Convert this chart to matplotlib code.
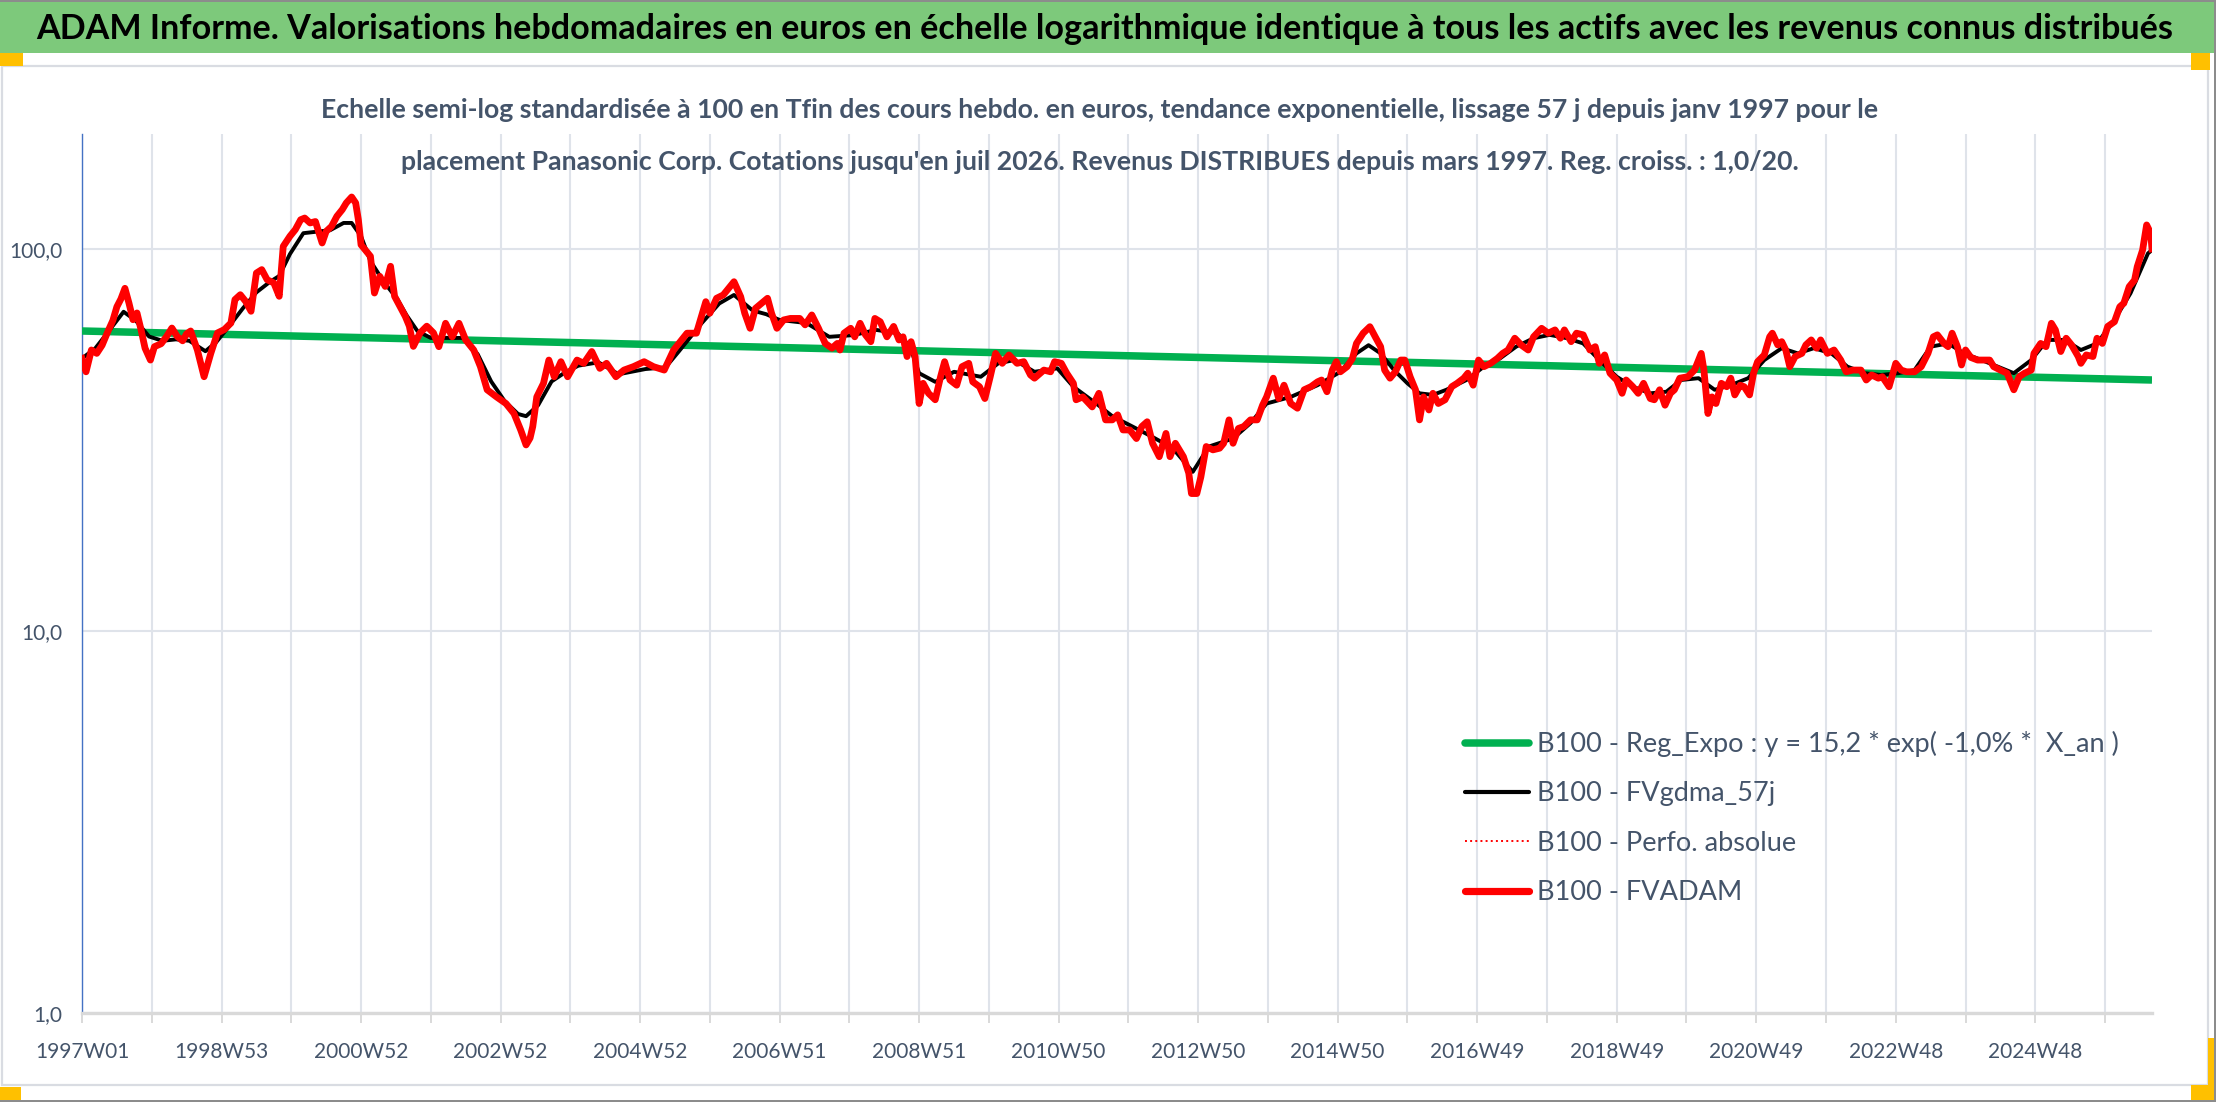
import matplotlib
matplotlib.use("Agg")
import matplotlib.pyplot as plt
from matplotlib.patches import Rectangle
from matplotlib.lines import Line2D


# ── Constants ────────────────────────────────────────────────────────────────
W, H, DPI = 2216, 1102, 100
SLATE = "#44546a"
GRID = "#dfe3ea"

TITLE = ("ADAM Informe. Valorisations hebdomadaires en euros en échelle logarithmique "
         "identique à tous les actifs avec les revenus connus distribués")
SUBTITLE_1 = ("Echelle semi-log standardisée à 100 en Tfin des cours hebdo. en euros, "
              "tendance exponentielle, lissage 57 j depuis janv 1997 pour le")
SUBTITLE_2 = ("placement Panasonic Corp. Cotations jusqu'en juil 2026. Revenus DISTRIBUES "
              "depuis mars 1997. Reg. croiss. : 1,0/20.")

LEGEND_LABELS = [
    "B100 - Reg_Expo : y = 15,2 * exp( -1,0% *  X_an )",
    "B100 - FVgdma_57j",
    "B100 - Perfo. absolue",
    "B100 - FVADAM",
]

# ── Data (x = weeks since 1997W01) ───────────────────────────────────────────
tick_labels = ["1997W01", "1998W53", "2000W52", "2002W52", "2004W52", "2006W51",
               "2008W51", "2010W50", "2012W50", "2014W50", "2016W49", "2018W49",
               "2020W49", "2022W48", "2024W48"]

fvadam_weeks = [
    0, 3, 7, 11, 15, 19, 23, 26, 29, 32, 35, 38, 41, 44, 47, 51, 54, 59, 63, 67,
    71, 75, 78, 81, 86, 88, 91, 96, 101, 106, 111, 114, 118, 122, 126, 130, 134, 138, 143, 147,
    150, 155, 159, 163, 166, 170, 174, 179, 182, 186, 190, 194, 197, 201, 204, 206, 208, 211, 215, 218,
    222, 226, 230, 233, 237, 241, 244, 247, 252, 257, 262, 266, 271, 276, 281, 286, 292, 297, 302, 309,
    316, 322, 327, 331, 334, 336, 339, 344, 348, 352, 357, 362, 369, 374, 380, 386, 391, 398, 404, 411,
    419, 426, 434, 441, 451, 458, 465, 468, 473, 478, 486, 491, 494, 498, 502, 511, 514, 518, 523, 528,
    535, 539, 544, 549, 554, 559, 563, 565, 568, 573, 576, 580, 584, 588, 591, 595, 600, 605, 609, 612,
    615, 618, 621, 624, 627, 631, 636, 640, 643, 647, 652, 656, 661, 664, 669, 673, 677, 681, 686, 691,
    697, 702, 707, 710, 717, 722, 725, 730, 734, 739, 741, 746, 753, 758, 763, 768, 772, 776, 781, 786,
    790, 794, 798, 803, 808, 811, 815, 821, 825, 827, 831, 834, 838, 843, 848, 851, 855, 858, 862, 866,
    871, 876, 880, 883, 888, 892, 896, 901, 906, 911, 916, 921, 924, 928, 932, 935, 938, 943, 947, 950,
    955, 960, 964, 968, 971, 975, 979, 983, 986, 990, 994, 997, 1000, 1004, 1007, 1011, 1016, 1021, 1025, 1030,
    1033, 1037, 1041, 1045, 1050, 1055, 1059, 1063, 1068, 1073, 1078, 1082, 1088, 1093, 1098, 1102, 1105, 1110, 1114, 1119,
    1124, 1128, 1131, 1135, 1139, 1144, 1148, 1151, 1156, 1160, 1164, 1169, 1172, 1176, 1180, 1184, 1187, 1191, 1197, 1202,
    1207, 1209, 1212, 1215, 1218, 1222, 1226, 1229, 1232, 1236, 1239, 1243, 1246, 1249, 1254, 1258, 1260, 1264, 1267, 1270,
    1273, 1277, 1282, 1285, 1289, 1293, 1296, 1301, 1306, 1311, 1315, 1320, 1326, 1330, 1334, 1339, 1342, 1347, 1352, 1356,
    1360, 1366, 1371, 1376, 1380, 1383, 1388, 1391, 1394, 1398, 1401, 1404, 1408, 1413, 1418, 1422, 1425, 1430, 1435, 1440,
    1444, 1448, 1453, 1455, 1460, 1464, 1468, 1471, 1475, 1479, 1483, 1488, 1490, 1494, 1499, 1502, 1506, 1510, 1515, 1519,
    1522, 1526, 1530, 1532, 1536, 1539, 1542, 1543,
]
fvadam_values = [
    51.7, 47.7, 54.4, 53.3, 56.0, 60.5, 65.0, 70.6, 74.0, 78.9, 72.2, 65.3, 68.0, 61.5, 55.0, 51.2, 55.5, 56.5, 59.0, 62.1,
    59.0, 57.5, 60.0, 61.0, 54.4, 51.0, 46.3, 53.3, 60.3, 61.5, 64.0, 73.7, 75.9, 72.9, 68.7, 86.5, 88.3, 83.1, 81.5, 75.2,
    101.6, 108.0, 112.4, 119.3, 120.5, 117.0, 118.0, 103.7, 111.2, 114.6, 121.8, 126.8, 132.0, 136.8, 132.0, 119.3, 102.6, 99.6, 95.7, 76.7,
    84.8, 79.8, 90.1, 75.2, 70.8, 66.6, 62.8, 55.6, 60.3, 62.8, 60.3, 55.5, 63.9, 58.9, 63.9, 57.8, 54.4, 49.2, 42.8, 41.0,
    39.4, 37.1, 33.6, 30.7, 32.0, 34.3, 41.0, 44.5, 51.2, 46.3, 50.7, 46.3, 51.2, 50.2, 53.9, 48.7, 50.2, 46.3, 48.2, 49.2,
    50.7, 49.2, 48.2, 54.4, 60.2, 60.2, 72.8, 67.9, 74.3, 75.8, 82.1, 75.0, 67.9, 62.0, 69.9, 74.3, 67.9, 62.0, 65.2, 65.8,
    65.8, 63.3, 67.2, 62.0, 56.6, 55.0, 56.6, 54.4, 60.2, 62.0, 58.9, 63.9, 59.6, 57.2, 65.8, 64.5, 58.9, 62.7, 57.8, 58.9,
    52.3, 57.2, 52.3, 39.4, 44.5, 41.9, 40.3, 46.3, 50.7, 45.4, 44.0, 49.2, 50.2, 44.9, 43.6, 40.6, 46.3, 53.3, 50.2, 52.8,
    50.2, 50.7, 46.8, 45.9, 48.2, 47.7, 50.7, 50.2, 47.3, 44.5, 40.3, 41.0, 38.6, 41.9, 35.7, 35.7, 36.8, 33.6, 33.6, 31.9,
    34.3, 35.3, 31.0, 28.6, 32.9, 28.6, 31.0, 28.6, 25.9, 22.9, 22.9, 25.3, 30.4, 29.8, 30.1, 31.0, 35.7, 31.0, 33.9, 34.3,
    35.7, 35.7, 39.0, 41.0, 45.9, 40.6, 44.0, 39.4, 38.3, 42.8, 43.6, 44.9, 45.4, 42.3, 48.2, 50.7, 47.7, 49.2, 51.7, 56.6,
    60.2, 62.6, 58.9, 55.5, 48.2, 45.9, 47.7, 51.2, 51.2, 46.3, 42.8, 35.7, 41.0, 37.9, 41.9, 39.4, 40.3, 43.6, 44.5, 45.9,
    47.3, 44.0, 51.2, 49.2, 50.2, 51.7, 53.3, 54.4, 58.4, 56.0, 54.4, 58.9, 62.0, 60.2, 61.4, 58.4, 61.4, 57.2, 60.2, 59.6,
    54.4, 55.5, 50.2, 52.8, 47.3, 45.4, 41.9, 45.4, 43.6, 41.9, 44.5, 40.6, 40.3, 42.8, 39.0, 41.9, 42.8, 45.9, 46.3, 48.2,
    53.3, 48.2, 37.1, 41.0, 39.4, 44.5, 43.6, 45.9, 41.5, 44.0, 43.6, 41.5, 47.3, 50.7, 52.8, 58.9, 60.2, 56.1, 57.2, 54.4,
    49.2, 52.3, 53.3, 56.1, 57.8, 55.0, 57.8, 53.3, 54.4, 51.2, 47.7, 48.2, 48.2, 45.4, 46.8, 45.9, 46.3, 43.6, 50.2, 48.2,
    47.7, 47.7, 49.2, 53.3, 58.9, 59.6, 56.6, 55.5, 60.2, 55.5, 49.7, 54.4, 52.0, 51.2, 51.2, 51.2, 49.2, 48.2, 47.3, 42.8,
    46.3, 47.3, 48.2, 53.3, 56.6, 55.5, 63.9, 61.4, 53.9, 58.4, 56.1, 52.3, 50.2, 52.8, 52.3, 58.4, 56.6, 62.7, 64.5, 70.6,
    72.1, 79.7, 82.9, 89.9, 99.4, 115.6, 110.0, 100.0,
]

gdma_weeks = [
    0, 10, 20, 31, 40, 50, 60, 70, 80, 92, 100, 110, 120, 130, 140, 147, 155, 165, 175, 185,
    195, 201, 208, 215, 225, 235, 242, 250, 260, 275, 285, 295, 305, 315, 325, 331, 340, 350, 360, 370,
    385, 400, 420, 435, 445, 462, 475, 486, 500, 510, 520, 540, 557, 575, 592, 608, 617, 624, 636, 650,
    670, 683, 695, 710, 727, 739, 756, 768, 783, 798, 813, 828, 840, 858, 871, 883, 901, 921, 938, 950,
    959, 968, 978, 988, 997, 1007, 1017, 1032, 1045, 1057, 1069, 1082, 1094, 1107, 1119, 1131, 1144, 1156, 1169, 1181,
    1192, 1205, 1217, 1229, 1242, 1254, 1267, 1279, 1291, 1304, 1316, 1329, 1341, 1354, 1366, 1378, 1391, 1403, 1416, 1428,
    1440, 1453, 1465, 1478, 1490, 1502, 1515, 1527, 1540, 1543,
]
gdma_values = [
    51.7, 55.0, 61.0, 68.5, 65.0, 59.0, 57.5, 58.0, 57.5, 54.0, 57.0, 63.0, 70.0, 77.0, 82.0, 85.0, 97.0, 110.0, 111.0, 112.0,
    117.0, 117.0, 108.0, 93.0, 82.0, 74.0, 67.0, 61.0, 58.5, 58.5, 58.5, 53.0, 45.0, 40.0, 37.0, 36.5, 39.0, 45.0, 47.5, 49.5,
    50.5, 47.0, 48.5, 49.0, 54.0, 64.0, 72.0, 75.8, 69.0, 67.5, 65.2, 64.0, 58.9, 59.5, 61.4, 60.2, 55.7, 47.3, 44.9, 47.7,
    46.3, 50.2, 51.2, 47.7, 48.7, 43.6, 39.4, 36.5, 34.3, 32.2, 30.1, 26.1, 30.4, 31.9, 35.0, 39.4, 41.0, 44.0, 47.7, 53.3,
    56.0, 53.3, 48.2, 44.5, 41.9, 41.5, 42.8, 45.4, 49.2, 51.7, 55.5, 58.4, 59.6, 58.4, 56.6, 51.2, 46.3, 43.6, 41.9, 42.3,
    45.4, 45.9, 42.8, 44.0, 45.9, 51.2, 55.0, 53.3, 55.0, 53.3, 49.2, 47.3, 46.8, 47.3, 48.2, 55.5, 56.6, 53.3, 51.2, 49.2,
    47.3, 51.2, 57.8, 57.8, 54.4, 56.6, 65.2, 76.6, 97.4, 99.4,
]

trend_weeks = [0, 1543]
trend_values = [61.0, 45.4]


# ── Helpers ──────────────────────────────────────────────────────────────────
def box(fig, x0, y0, x1, y1, color, z=0):
    # rectangle given in image pixels (origin top-left)
    fig.add_artist(Rectangle((x0 / W, 1 - y1 / H), (x1 - x0) / W, (y1 - y0) / H,
                             transform=fig.transFigure, facecolor=color,
                             edgecolor="none", zorder=z))


def fit_width(fig, txt, target_px):
    renderer = fig.canvas.get_renderer()
    width = txt.get_window_extent(renderer=renderer).width
    txt.set_fontsize(txt.get_fontsize() * target_px / width)


# ── Figure ───────────────────────────────────────────────────────────────────
def main() -> None:
    plt.rcParams["font.family"] = ["Lato", "DejaVu Sans"]

    fig = plt.figure(figsize=(W / DPI, H / DPI), dpi=DPI, facecolor="white")

    # frame, header band and selection handles
    box(fig, 0, 0, W, 2, "#8c8c8c", 1)
    box(fig, 0, 2, 2214, 53, "#7dc97b", 1)
    box(fig, 2214, 0, W, H, "#8c8c8c", 1)
    box(fig, 0, 1100, W, H, "#8c8c8c", 1)
    fig.add_artist(Rectangle((2 / W, 1 - 1085 / H), 2206 / W, 1019 / H,
                             transform=fig.transFigure, facecolor="none",
                             edgecolor="#d9dce2", linewidth=1.6, zorder=1))
    for x0, y0, x1, y1 in [(0, 53, 23, 66), (2191, 53, 2210, 70),
                           (2208, 1038, 2214, 1100), (2191, 1085, 2214, 1100),
                           (0, 1087, 21, 1100)]:
        box(fig, x0, y0, x1, y1, "#ffc000", 2)

    title = fig.text(1105 / W, 1 - 29 / H, TITLE, ha="center", va="center",
                     fontsize=20, fontweight="bold", color="black")
    fit_width(fig, title, 2139)

    sub1 = fig.text(1100 / W, 1 - 110 / H, SUBTITLE_1, ha="center", va="center",
                    fontsize=16, fontweight="bold", color=SLATE)
    fit_width(fig, sub1, 1560)
    fig.text(1100 / W, 1 - 162 / H, SUBTITLE_2, ha="center", va="center",
             fontsize=sub1.get_fontsize(), fontweight="bold", color=SLATE)

    # ── Axes ──
    ax = fig.add_axes([82 / W, 1 - 1013 / H, (2152 - 82) / W, (1013 - 134) / H])
    ax.set_yscale("log")
    ax.set_ylim(1, 200)
    ax.set_xlim(0, 1543)

    ax.set_xticks(range(0, 1544, 52))
    ax.set_xticklabels([tick_labels[i // 2] if i % 2 == 0 else ""
                        for i in range(len(range(0, 1544, 52)))])
    ax.set_yticks([1, 10, 100])
    ax.set_yticklabels(["1,0", "10,0", "100,0"])
    ax.minorticks_off()

    ax.grid(True, axis="both", color=GRID, linewidth=1.5, zorder=0)
    ax.set_axisbelow(True)
    ax.tick_params(axis="x", length=7, width=1.4, color="#d9d9d9", pad=14,
                   labelsize=15, labelcolor=SLATE)
    ax.tick_params(axis="y", length=0, pad=14, labelsize=15, labelcolor=SLATE)
    for side in ("top", "right"):
        ax.spines[side].set_visible(False)
    ax.spines["left"].set_color("#4472c4")
    ax.spines["left"].set_linewidth(1.0)
    ax.spines["bottom"].set_color("#d9d9d9")
    ax.spines["bottom"].set_linewidth(2.4)

    # ── Series ──
    ax.plot(trend_weeks, trend_values, color="#00b050", linewidth=5.4,
            solid_capstyle="butt", zorder=3)
    ax.plot(gdma_weeks, gdma_values, color="black", linewidth=2.8, zorder=4)
    ax.plot(fvadam_weeks, fvadam_values, color="#ff0000", linewidth=1.2,
            linestyle=":", zorder=5)
    ax.plot(fvadam_weeks, fvadam_values, color="#ff0000", linewidth=4.9,
            solid_joinstyle="round", zorder=6)

    handles = [
        Line2D([], [], color="#00b050", linewidth=5.4, solid_capstyle="round"),
        Line2D([], [], color="black", linewidth=3.0, solid_capstyle="round"),
        Line2D([], [], color="#ff0000", linewidth=1.4, linestyle=":"),
        Line2D([], [], color="#ff0000", linewidth=5.2, solid_capstyle="round"),
    ]
    ax.legend(handles, LEGEND_LABELS, loc="upper left",
              bbox_to_anchor=(1465 / W, 1 - 731 / H), bbox_transform=fig.transFigure,
              frameon=False, fontsize=19.5, handlelength=2.35, handletextpad=0.3,
              labelspacing=0.9, borderpad=0, borderaxespad=0, labelcolor=SLATE)

    fig.savefig("out.png", dpi=DPI)
    plt.close(fig)


if __name__ == "__main__":
    main()
